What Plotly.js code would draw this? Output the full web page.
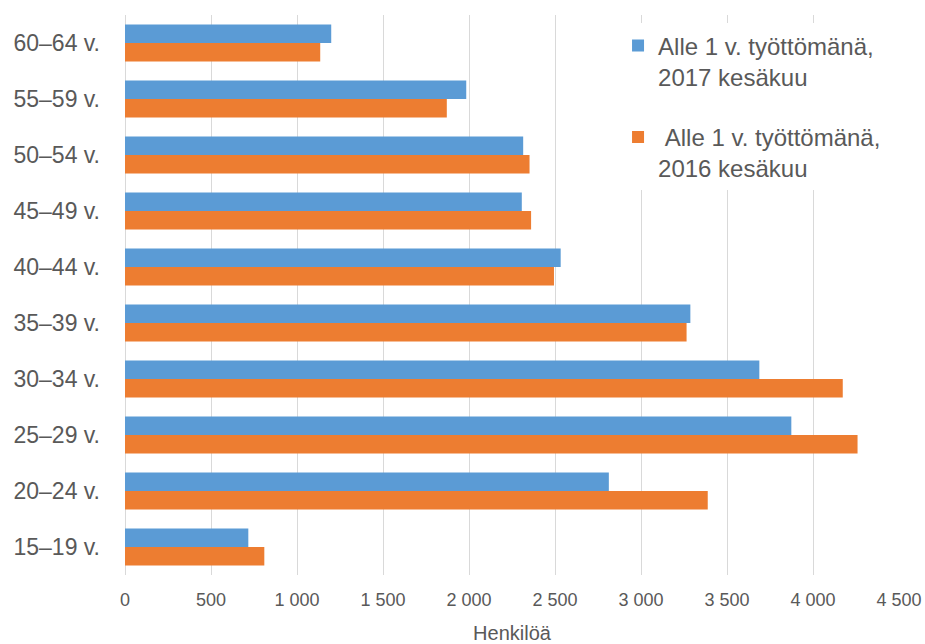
<!DOCTYPE html>
<html>
<head>
<meta charset="utf-8">
<script src="https://cdn.plot.ly/plotly-3.0.1.min.js"></script>
<style>html,body{margin:0;padding:0;background:#fff;}#chart{width:925px;height:644px;}</style>
</head>
<body>
<div id="chart"></div>
<script>
var categories = ['15–19 v.', '20–24 v.', '25–29 v.', '30–34 v.', '35–39 v.', '40–44 v.', '45–49 v.', '50–54 v.', '55–59 v.', '60–64 v.'];
var values2017 = [717, 2813, 3874, 3688, 3287, 2533, 2307, 2315, 1984, 1199];
var values2016 = [810, 3388, 4259, 4173, 3265, 2494, 2361, 2352, 1871, 1135];
var name2017 = 'Alle 1 v. työttömänä,<br>2017 kesäkuu';
var name2016 = '\u00a0Alle 1 v. työttömänä,<br>2016 kesäkuu';
var xTickVals = [0, 500, 1000, 1500, 2000, 2500, 3000, 3500, 4000, 4500];

var txt = '#595959';
var font = 'Liberation Sans, Arial, sans-serif';

var traces = [
  {type: 'bar', orientation: 'h', y: categories, x: values2016, name: name2016,
   legendgroup: 'b', legendrank: 2, marker: {color: '#ED7D31'}, hoverinfo: 'x'},
  {type: 'bar', orientation: 'h', y: categories, x: values2017, name: name2017,
   legendgroup: 'a', legendrank: 1, marker: {color: '#5B9BD5'}, hoverinfo: 'x'}
];

var layout = {
  width: 925, height: 644,
  margin: {l: 125, r: 26, t: 15, b: 69},
  paper_bgcolor: '#fff', plot_bgcolor: '#fff',
  barmode: 'group', bargap: 0.34, bargroupgap: 0,
  separators: ', ',
  font: {family: font, color: txt},
  xaxis: {
    range: [0, 4500], tickvals: xTickVals, separatethousands: true,
    showgrid: true, gridcolor: '#d9d9d9', gridwidth: 1,
    zeroline: true, zerolinecolor: '#d9d9d9', zerolinewidth: 1,
    showline: false, ticks: '', ticklabelstandoff: 12,
    tickfont: {size: 18, color: txt, family: font},
    title: {text: 'Henkilöä', font: {size: 20, color: txt, family: font}, standoff: 22},
    fixedrange: true
  },
  yaxis: {
    type: 'category', showgrid: false, zeroline: false, showline: false,
    ticks: '', ticklabelstandoff: 24,
    tickfont: {size: 23, color: txt, family: font},
    fixedrange: true
  },
  legend: {
    x: 0.637, xanchor: 'left', y: 0.985, yanchor: 'top',
    bgcolor: '#fff', borderwidth: 0,
    traceorder: 'grouped', tracegroupgap: 26, valign: 'top',
    font: {size: 24, color: txt, family: font}
  },
  showlegend: true
};

Plotly.newPlot('chart', traces, layout, {displayModeBar: false, staticPlot: true});
</script>
</body>
</html>
